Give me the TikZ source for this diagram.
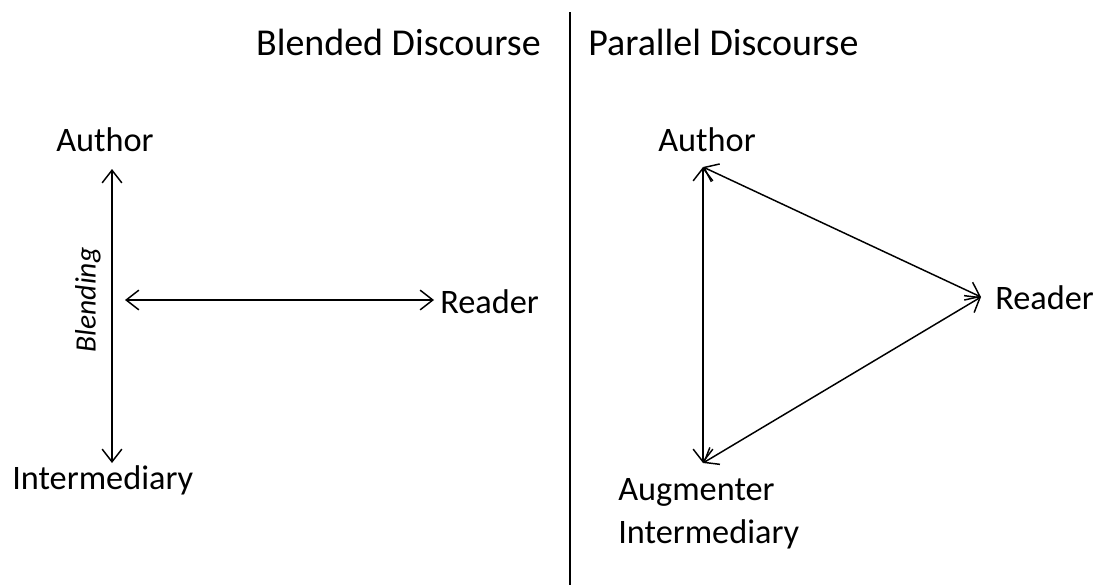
\documentclass[tikz,border=0pt]{standalone}
\usepackage{fontspec}
\setmainfont{Carlito}
\usetikzlibrary{arrows.meta}
\tikzset{
  label text/.style={font=\fontsize{24.4}{29}\selectfont, inner sep=0pt},
  title text/.style={font=\fontsize{27}{32}\selectfont, inner sep=0pt},
  link/.style={line width=1.05pt, {Straight Barb[length=9pt,width=14pt]}-{Straight Barb[length=9pt,width=14pt]}}
}
\begin{document}
\begin{tikzpicture}[x=0.025cm, y=-0.025cm]
\useasboundingbox (0,0) rectangle (1096,585);

% Divider between the two panels
\coordinate (divTop) at (570,12);
\coordinate (divBot) at (570,585);
\draw[line width=1.1pt] (divTop) -- (divBot);

% Panel titles
\node[title text, anchor=east] (blendTitle) at (541,42) {Blended Discourse};
\node[title text, anchor=west] (parTitle) at (588,42) {Parallel Discourse};

% Left panel: blended discourse
\node[label text] (authorL) at (105,140) {Author};
\node[label text, anchor=west] (readerL) at (440,302) {Reader};
\node[label text, anchor=west] (interL) at (12,480) {Intermediary};
\node[label text, font=\fontsize{21}{25}\selectfont\itshape, rotate=90] (blendLbl) at (88,300) {Blending};

\coordinate (vTop) at (112,169);
\coordinate (vBot) at (112,463);
\coordinate (hLeft) at (125,300);
\coordinate (hRight) at (434,300);
\draw[link] (vTop) -- (vBot); % Author to intermediary
\draw[link] (hLeft) -- (hRight); % Blending to reader

% Right panel: parallel discourse
\node[label text] (authorR) at (707,140) {Author};
\node[label text, anchor=west] (readerR) at (995,298) {Reader};
\node[label text, anchor=north west, align=left] (augR) at (618,478) {Augmenter\\[2pt]Intermediary};

\coordinate (triA) at (703,167);
\coordinate (triR) at (981,297);
\coordinate (triI) at (703,463);
\draw[link] (triA) -- (triI); % Author to augmenter
\draw[link] (triA) -- (triR); % Author to reader
\draw[link] (triR) -- (triI); % Reader to augmenter

\end{tikzpicture}
\end{document}
